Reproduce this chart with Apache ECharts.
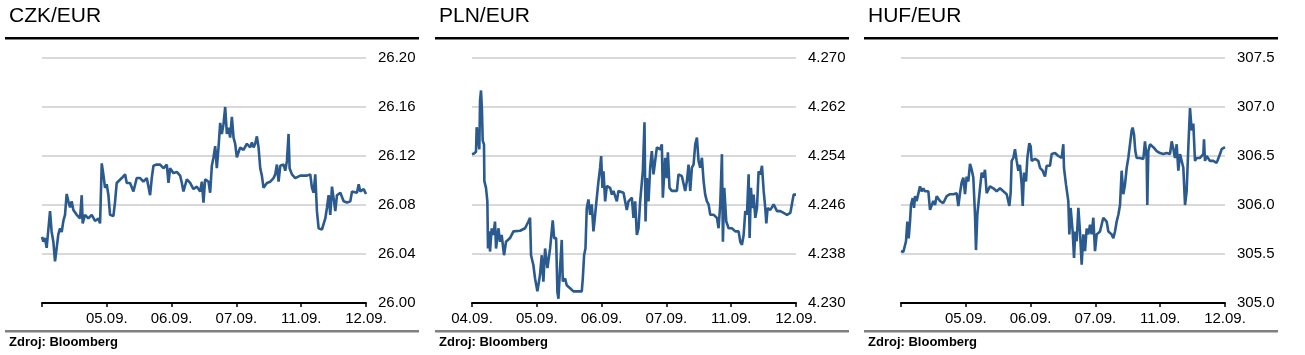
<!DOCTYPE html>
<html>
<head>
<meta charset="utf-8">
<script src="https://cdn.jsdelivr.net/npm/echarts@6/dist/echarts.min.js"></script>
<style>
html,body{margin:0;padding:0;background:#fff;}
#chart{width:1305px;height:355px;}
</style>
</head>
<body>
<div id="chart"></div>
<script>
// ---- Data (x = trading-day position, 0 = 04.09. ... 5 = 12.09.) ----
var titles = ['CZK/EUR', 'PLN/EUR', 'HUF/EUR'];
var sourceText = 'Zdroj: Bloomberg';
var tickLabelsCZK = ['', '05.09.', '06.09.', '07.09.', '11.09.', '12.09.'];
var tickLabelsPLN = ['04.09.', '05.09.', '06.09.', '07.09.', '11.09.', '12.09.'];
var tickLabelsHUF = ['', '05.09.', '06.09.', '07.09.', '11.09.', '12.09.'];

var czkDays = [0,.021,.046,.072,.098,.124,.149,.175,.201,.227,.252,.278,.304,.33,.355,.381,.407,.433,.458,.484,.536,.587,.613,.628,.664,.716,.767,.819,.870,.896,.922,.947,.973,.999,1.025,1.05,1.102,1.128,1.153,1.179,1.231,1.282,1.308,1.359,1.411,1.462,1.514,1.565,1.617,1.668,1.694,1.720,1.771,1.823,1.874,1.926,1.952,1.977,2.029,2.080,2.132,2.158,2.183,2.235,2.286,2.338,2.389,2.441,2.467,2.492,2.518,2.570,2.595,2.621,2.647,2.673,2.698,2.724,2.750,2.775,2.801,2.827,2.853,2.878,2.904,2.930,2.956,2.981,3.007,3.059,3.110,3.162,3.213,3.239,3.265,3.290,3.316,3.342,3.368,3.393,3.419,3.471,3.522,3.574,3.599,3.625,3.651,3.677,3.728,3.754,3.780,3.805,3.821,3.857,3.908,3.986,4.089,4.140,4.166,4.192,4.217,4.243,4.269,4.320,4.372,4.398,4.423,4.449,4.475,4.501,4.526,4.552,4.604,4.655,4.707,4.758,4.784,4.809,4.861,4.887,4.912,4.964,5.0];
var czkRates = [26.054,26.050,26.053,26.045,26.060,26.075,26.058,26.050,26.034,26.045,26.056,26.061,26.058,26.067,26.072,26.089,26.083,26.078,26.083,26.076,26.072,26.069,26.088,26.065,26.072,26.069,26.072,26.067,26.069,26.065,26.114,26.105,26.094,26.097,26.088,26.072,26.071,26.083,26.098,26.099,26.102,26.105,26.098,26.098,26.091,26.102,26.102,26.099,26.102,26.088,26.102,26.112,26.113,26.113,26.110,26.113,26.098,26.110,26.106,26.107,26.104,26.098,26.091,26.101,26.098,26.093,26.095,26.091,26.099,26.082,26.101,26.099,26.090,26.112,26.119,26.128,26.110,26.127,26.147,26.138,26.146,26.160,26.138,26.143,26.135,26.152,26.135,26.130,26.119,26.127,26.125,26.130,26.127,26.131,26.127,26.130,26.136,26.127,26.110,26.104,26.094,26.098,26.099,26.102,26.105,26.113,26.099,26.112,26.113,26.108,26.116,26.138,26.110,26.105,26.102,26.104,26.104,26.105,26.094,26.090,26.105,26.075,26.061,26.060,26.069,26.078,26.088,26.072,26.095,26.085,26.075,26.088,26.090,26.083,26.082,26.083,26.091,26.091,26.090,26.097,26.091,26.093,26.089];

var plnDays = [0,.031,.062,.072,.098,.113,.124,.139,.154,.165,.185,.191,.216,.237,.247,.268,.278,.304,.33,.355,.371,.407,.433,.458,.494,.525,.587,.639,.742,.819,.870,.896,.911,.947,.973,1.009,1.05,1.076,1.102,1.128,1.164,1.205,1.246,1.267,1.298,1.318,1.334,1.359,1.385,1.401,1.437,1.462,1.514,1.565,1.694,1.710,1.730,1.751,1.771,1.797,1.823,1.849,1.874,1.900,1.926,1.952,1.977,1.993,2.013,2.029,2.055,2.080,2.132,2.158,2.183,2.235,2.260,2.338,2.389,2.415,2.467,2.492,2.518,2.544,2.570,2.595,2.636,2.662,2.678,2.698,2.724,2.750,2.775,2.801,2.853,2.904,2.930,2.945,2.981,3.007,3.023,3.048,3.084,3.162,3.187,3.239,3.290,3.316,3.342,3.368,3.393,3.419,3.445,3.471,3.496,3.522,3.548,3.574,3.599,3.625,3.651,3.677,3.728,3.780,3.805,3.831,3.857,3.872,3.893,3.924,3.960,4.011,4.063,4.114,4.140,4.166,4.192,4.217,4.243,4.269,4.284,4.305,4.325,4.346,4.372,4.398,4.423,4.449,4.475,4.501,4.526,4.542,4.562,4.604,4.655,4.707,4.758,4.809,4.861,4.912,4.938,4.964,5.0];
var plnRates = [4.2543,4.2544,4.2547,4.2587,4.2587,4.2551,4.2630,4.2647,4.2614,4.2565,4.2559,4.2499,4.2488,4.2466,4.2389,4.2417,4.2384,4.2422,4.2411,4.2433,4.2389,4.2422,4.2400,4.2411,4.2378,4.2400,4.2406,4.2417,4.2418,4.2422,4.2433,4.2439,4.2378,4.2362,4.2340,4.2319,4.2346,4.2378,4.2335,4.2389,4.2357,4.2389,4.2435,4.2406,4.2406,4.2318,4.2307,4.2357,4.2403,4.2335,4.2340,4.2329,4.2324,4.2319,4.2319,4.2340,4.2378,4.2389,4.2455,4.2469,4.2444,4.2461,4.2417,4.2444,4.2472,4.2499,4.2521,4.2540,4.2488,4.2515,4.2466,4.2491,4.2488,4.2477,4.2483,4.2466,4.2483,4.2480,4.2452,4.2466,4.2472,4.2439,4.2466,4.2411,4.2422,4.2466,4.2515,4.2595,4.2433,4.2504,4.2466,4.2521,4.2548,4.2510,4.2554,4.2551,4.2559,4.2472,4.2537,4.2504,4.2546,4.2488,4.2483,4.2483,4.2510,4.2507,4.2483,4.2499,4.2526,4.2483,4.2521,4.2526,4.2559,4.2570,4.2532,4.2521,4.2537,4.2499,4.2477,4.2466,4.2461,4.2444,4.2444,4.2439,4.2422,4.2461,4.2543,4.2400,4.2488,4.2433,4.2422,4.2422,4.2417,4.2417,4.2400,4.2395,4.2411,4.2450,4.2444,4.2510,4.2406,4.2488,4.2455,4.2477,4.2439,4.2455,4.2515,4.2510,4.2524,4.2483,4.2455,4.2430,4.2455,4.2452,4.2461,4.2450,4.2450,4.2447,4.2444,4.2447,4.2444,4.2477,4.2477];

var hufDays = [0,.036,.062,.077,.098,.118,.139,.154,.180,.201,.216,.242,.267,.293,.319,.345,.370,.422,.448,.473,.499,.525,.550,.576,.602,.653,.705,.756,.808,.859,.885,.910,.936,.962,.988,1.013,1.039,1.065,1.091,1.116,1.142,1.157,1.178,1.199,1.219,1.245,1.271,1.296,1.322,1.348,1.373,1.425,1.476,1.528,1.579,1.631,1.672,1.692,1.708,1.734,1.759,1.785,1.811,1.836,1.862,1.878,1.898,1.929,1.950,1.980,2.001,2.016,2.068,2.119,2.145,2.186,2.222,2.248,2.299,2.325,2.377,2.428,2.479,2.505,2.515,2.546,2.582,2.598,2.618,2.649,2.670,2.690,2.711,2.737,2.762,2.788,2.814,2.840,2.865,2.891,2.917,2.942,2.968,2.994,3.020,3.071,3.122,3.174,3.200,3.225,3.251,3.277,3.302,3.328,3.354,3.380,3.405,3.431,3.457,3.483,3.508,3.534,3.560,3.575,3.596,3.616,3.637,3.688,3.740,3.765,3.791,3.801,3.817,3.843,3.894,3.946,3.997,4.048,4.100,4.151,4.177,4.203,4.228,4.254,4.280,4.306,4.331,4.357,4.383,4.408,4.434,4.460,4.486,4.511,4.537,4.563,4.614,4.666,4.676,4.691,4.717,4.769,4.820,4.871,4.897,4.923,4.949,5.0];
var hufRates = [305.53,305.52,305.51,305.63,305.83,305.66,305.83,306.00,306.07,305.97,306.09,306.04,306.04,306.19,306.14,306.17,306.14,306.14,305.95,305.97,306.04,306.00,306.09,306.11,306.04,306.02,306.09,306.11,306.11,306.12,305.99,306.12,306.23,306.28,306.11,306.29,306.24,306.42,306.36,306.28,305.90,305.54,305.90,306.04,306.17,306.33,306.28,306.36,306.12,306.12,306.19,306.17,306.14,306.17,306.14,306.11,305.99,306.12,306.45,306.48,306.57,306.45,306.35,306.41,306.21,305.99,306.33,306.24,306.48,306.63,306.60,306.45,306.47,306.45,306.38,306.35,306.29,306.40,306.40,306.52,306.53,306.50,306.48,306.62,306.38,306.21,306.04,305.70,305.97,305.73,305.46,305.73,305.63,305.97,305.73,305.39,305.70,305.53,305.76,305.70,305.80,305.70,305.87,305.53,305.70,305.73,305.87,305.83,305.73,305.73,305.70,305.66,305.73,305.83,305.90,306.00,306.35,306.11,306.21,306.38,306.48,306.62,306.76,306.79,306.72,306.55,306.48,306.48,306.47,306.65,306.48,306.00,306.55,306.62,306.59,306.55,306.53,306.52,306.53,306.52,306.65,306.57,306.48,306.62,306.35,306.52,306.45,306.38,306.00,306.14,306.59,306.99,306.76,306.83,306.45,306.48,306.48,306.52,306.67,306.45,306.50,306.45,306.45,306.43,306.45,306.52,306.57,306.59];

var yMin = [26.00, 4.230, 305.0];
var yMax = [26.20, 4.270, 307.5];
var yStep = [0.04, 0.008, 0.5];
var yDecimals = [2, 3, 1];

// ---- Build ----
function zip(a, b) { return a.map(function (d, i) { return [d, b[i]]; }); }
var seriesData = [zip(czkDays, czkRates), zip(plnDays, plnRates), zip(hufDays, hufRates)];
var tickLabels = [tickLabelsCZK, tickLabelsPLN, tickLabelsHUF];

var FONT = '"Liberation Sans", Arial, sans-serif';
var LINE = '#2b5a8e';
var offsets = [0, 430, 859];

var grids = [], xAxes = [], yAxes = [], series = [], graphics = [];
for (var i = 0; i < 3; i++) {
  var ox = offsets[i];
  grids.push({ left: ox + 42, top: 58, width: 324, height: 245, containLabel: false });
  (function (labels) {
    xAxes.push({
      type: 'value', gridIndex: i, min: 0, max: 5, interval: 1,
      axisLine: { show: true, lineStyle: { color: '#000', width: 2 } },
      axisTick: { show: true, length: 4, lineStyle: { color: '#000', width: 1.5 } },
      axisLabel: { show: true, margin: 8, color: '#000', fontFamily: FONT, fontSize: 15,
        formatter: function (v) { return labels[Math.round(v)] || ''; } },
      splitLine: { show: false }
    });
  })(tickLabels[i]);
  (function (dec) {
    yAxes.push({
      type: 'value', gridIndex: i, position: 'right', min: yMin[i], max: yMax[i], interval: yStep[i],
      axisLine: { show: false }, axisTick: { show: false },
      axisLabel: { margin: 12, color: '#000', fontFamily: FONT, fontSize: 15,
        formatter: function (v) { return v.toFixed(dec); } },
      splitLine: { show: true, lineStyle: { color: '#d9d9d9', width: 2 } }
    });
  })(yDecimals[i]);
  series.push({
    type: 'line', xAxisIndex: i, yAxisIndex: i, data: seriesData[i],
    showSymbol: false, symbol: 'none', animation: false,
    lineStyle: { color: LINE, width: 2.6 }
  });
  graphics.push({ type: 'text', left: ox + 9, top: 6,
    style: { text: titles[i], fontFamily: FONT, fontSize: 21, fill: '#000' } });
  graphics.push({ type: 'rect', shape: { x: ox + 5, y: 37, width: 414, height: 2.5 },
    style: { fill: '#000' } });
  graphics.push({ type: 'rect', shape: { x: ox + 5, y: 330, width: 414, height: 2.5 },
    style: { fill: '#808080' } });
  graphics.push({ type: 'text', left: ox + 9, top: 336,
    style: { text: sourceText, fontFamily: FONT, fontSize: 13, fontWeight: 'bold', fill: '#000' } });
}

var chart = echarts.init(document.getElementById('chart'), null, { renderer: 'canvas' });
chart.setOption({
  animation: false,
  backgroundColor: '#fff',
  grid: grids, xAxis: xAxes, yAxis: yAxes, series: series, graphic: graphics
});
</script>
</body>
</html>
